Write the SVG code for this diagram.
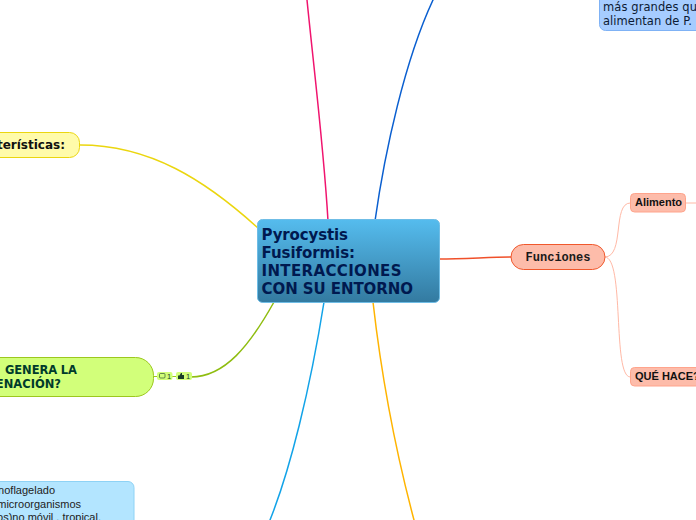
<svg xmlns="http://www.w3.org/2000/svg" width="696" height="520" viewBox="0 0 696 520">
<style>
.c{fill:none;stroke-linecap:round}
.dj{font-family:"DejaVu Sans",Verdana,sans-serif}
.ar{font-family:"Liberation Sans",Arial,sans-serif}
text{white-space:pre}
</style>
<defs>
<linearGradient id="g" x1="0" y1="0" x2="0" y2="1"><stop offset="0" stop-color="#55bcee"/><stop offset="1" stop-color="#337aa0"/></linearGradient>
</defs>
<rect width="696" height="520" fill="#fff"/>
<g id="connectors">
<path class="c" d="M307 0C314 70 324 150 328 221" stroke="#f0146e" stroke-width="1.5"/>
<path class="c" d="M433 0C405 60 385 150 375 221" stroke="#0a5fd0" stroke-width="1.5"/>
<path class="c" d="M80 145C150 145 205 180 258 228" stroke="#ebd60f" stroke-width="1.5"/>
<path class="c" d="M191 377C225 377 250 345 274 302" stroke="#8fbd10" stroke-width="1.5"/>
<path class="c" d="M324 302C310 390 290 470 270 520" stroke="#12a3e8" stroke-width="1.5"/>
<path class="c" d="M373 302C383 390 398 460 414 520" stroke="#ffb400" stroke-width="1.5"/>
<path class="c" d="M439 259C465 259 490 257 511 257" stroke="#f0502a" stroke-width="1.5"/>
<path class="c" d="M605 257C625 257 612 203 630 203" stroke="#ffb9a6" stroke-width="1"/>
<path class="c" d="M605 257C625 257 612 377 630 377" stroke="#ffb9a6" stroke-width="1"/>
<path class="c" d="M686 203L696 203" stroke="#ffb9a6" stroke-width="1"/>
<path d="M153 376.500H157M172 376.500H176" stroke="#9cc81e" stroke-width="1" fill="none"/>
</g>
<g id="root">
<rect x="257.500" y="219.500" width="182" height="83" rx="5" fill="url(#g)" stroke="#6fbde6"/>
<g class="dj" font-size="15" font-weight="700" fill="#00194f">
<text x="261.500" y="240" textLength="86.500">Pyrocystis</text>
<text x="261.500" y="258" textLength="93.500">Fusiformis:</text>
<text x="261.500" y="275.500" textLength="140">INTERACCIONES</text>
<text x="261.500" y="293.500" textLength="151.500">CON SU ENTORNO</text>
</g>
</g>
<g id="top-note">
<rect x="599.500" y="-30" width="120" height="60.500" rx="6" fill="#a6ccff" stroke="#7fb2f5"/>
<g class="dj" font-size="11.500" fill="#0d1b33">
<text x="603" y="10.500" textLength="94">más grandes qu</text>
<text x="603" y="24.500" textLength="89">alimentan de P.</text>
</g>
</g>
<g id="caracteristicas">
<rect x="-60" y="132.500" width="139.500" height="25" rx="10" fill="#fffbaa" stroke="#ebd60f"/>
<text class="dj" x="65" y="149" text-anchor="end" font-size="12" font-weight="700" fill="#111">Características:</text>
</g>
<g id="genera">
<rect x="-60" y="357.500" width="213.500" height="39" rx="18" fill="#d2ff7a" stroke="#9cc81e"/>
<g class="dj" font-size="11.500" font-weight="700" fill="#003b2b">
<text x="5" y="374" textLength="72">GENERA LA</text>
<text x="61" y="388" text-anchor="end">ENACIÓN?</text>
</g>
</g>
<g id="badges">
<rect x="157" y="372" width="15.500" height="8" rx="2" fill="#d2ff7a"/>
<rect x="176" y="372" width="16" height="8" rx="2" fill="#d2ff7a"/>
<rect x="159.500" y="373.500" width="5.500" height="4.500" rx="1" fill="none" stroke="#1b3d2a" stroke-width="0.600"/>
<text class="ar" x="167" y="379" font-size="7.500" fill="#1b3d2a">1</text>
<path d="M178 379V375.500H179.500L181 373H182V375H184V379Z" fill="#1b3d2a"/>
<text class="ar" x="186" y="379" font-size="7.500" fill="#1b3d2a">1</text>
</g>
<g id="dino-note">
<rect x="-60" y="481.500" width="194" height="60" rx="6" fill="#b3e5ff" stroke="#8ed2f5"/>
<g class="ar" font-size="11" fill="#222" text-anchor="end">
<text x="55" y="494">dinoflagelado</text>
<text x="81" y="508">microorganismos</text>
<text x="101" y="520.500">os)no móvil , tropical,</text>
</g>
</g>
<g id="funciones">
<rect x="511" y="244.500" width="94" height="25" rx="12.500" fill="#fdbcaa" stroke="#f0582c"/>
<text x="558" y="261" text-anchor="middle" font-family="'Liberation Mono',monospace" font-size="12" font-weight="700" fill="#1a1a1a">Funciones</text>
</g>
<g id="alimento">
<rect x="630.500" y="193.500" width="55" height="18.500" rx="4" fill="#fdbcaa" stroke="#ffa48c"/>
<text class="ar" x="635" y="206" font-size="11" font-weight="700" fill="#111">Alimento</text>
</g>
<g id="que-hace">
<rect x="630.500" y="367.500" width="90" height="18.500" rx="4" fill="#fdbcaa" stroke="#ffa48c"/>
<text class="ar" x="635" y="380" font-size="11" font-weight="700" fill="#111">QUÉ HACE?</text>
</g>
</svg>
